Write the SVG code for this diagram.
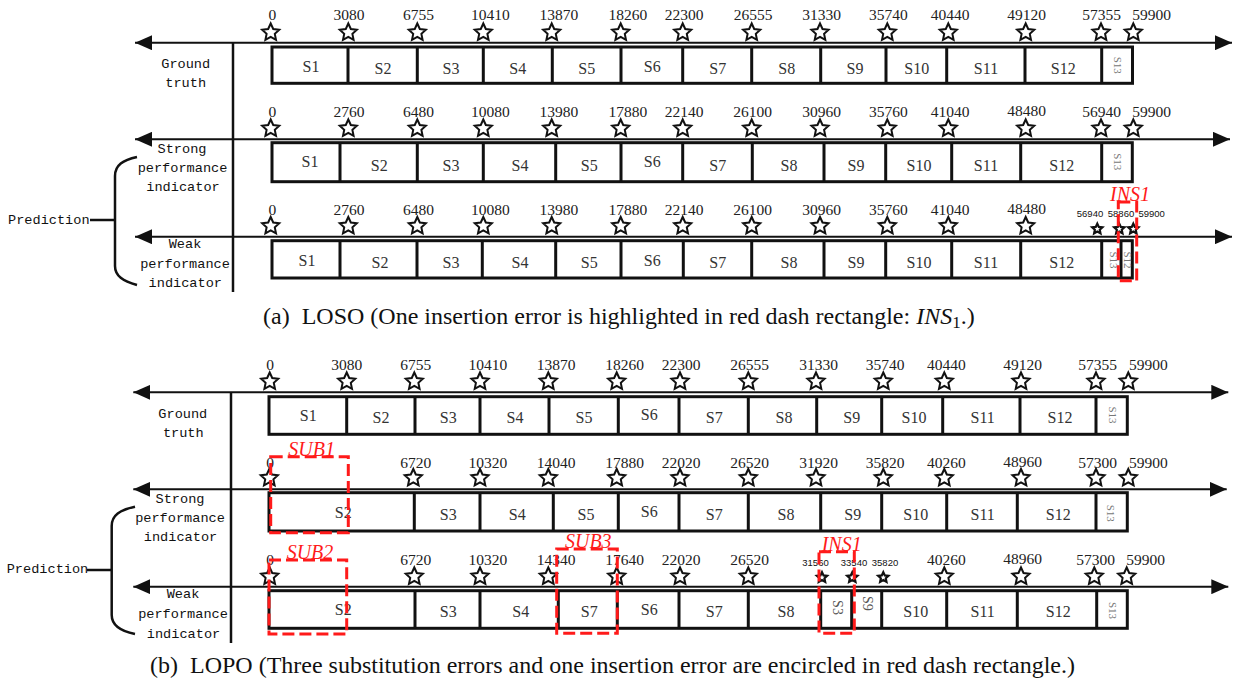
<svg xmlns="http://www.w3.org/2000/svg" xmlns:xlink="http://www.w3.org/1999/xlink" width="1234" height="683" viewBox="0 0 1234 683">
<style>
.num{font-family:"Liberation Serif",serif;font-size:15.5px;fill:#222;text-anchor:middle}
.sm{font-family:"Liberation Sans",sans-serif;font-size:9.5px;fill:#111;text-anchor:middle}
.seg{font-family:"Liberation Serif",serif;font-size:16px;fill:#333;text-anchor:middle}
.vseg{font-family:"Liberation Serif",serif;font-size:11px;fill:#777;text-anchor:middle}
.vseg2{font-family:"Liberation Serif",serif;font-size:14px;fill:#555;text-anchor:middle}
.hdr{font-family:"Liberation Mono",monospace;font-size:13.6px;fill:#111;text-anchor:middle}
.pred{font-family:"Liberation Mono",monospace;font-size:13.6px;fill:#111}
.cap{font-family:"Liberation Serif",serif;font-size:24px;fill:#111}
.err{font-family:"Liberation Serif",serif;font-size:20px;font-style:italic;fill:#ff1a1a;text-anchor:middle}
.box{fill:none;stroke:#111;stroke-width:3}
.div{stroke:#111;stroke-width:3}
.axis{stroke:#111;stroke-width:2;fill:none;marker-start:url(#ah);marker-end:url(#ah)}
.ln{stroke:#111;stroke-width:2.5;fill:none}
.red{fill:none;stroke:#ff1a1a;stroke-width:3;stroke-dasharray:12 5}
.st{fill:#fff;stroke:#111;stroke-width:2}
.sst{fill:#fff;stroke:#111;stroke-width:2.2}
</style>
<defs>
<marker id="ah" viewBox="0 0 17 15" refX="17" refY="7.5" markerWidth="17" markerHeight="15" markerUnits="userSpaceOnUse" orient="auto-start-reverse">
<path d="M0,0 L17,7.5 L0,15 Z" fill="#111"/>
</marker>
<path id="star" class="st" d="M0,-9 L2.53,-3.48 L8.56,-2.78 L4.09,1.33 L5.29,7.28 L0,4.3 L-5.29,7.28 L-4.09,1.33 L-8.56,-2.78 L-2.53,-3.48 Z"/>
<path id="sstar" class="sst" d="M0,-5.4 L1.52,-2.09 L5.14,-1.67 L2.45,0.8 L3.17,4.37 L0,2.58 L-3.17,4.37 L-2.45,0.8 L-5.14,-1.67 L-1.52,-2.09 Z"/>
</defs>
<rect width="1234" height="683" fill="#fff"/>

<g id="connectors">
<line class="axis" x1="135" y1="42.7" x2="1232" y2="42.7"/>
<line class="axis" x1="135" y1="139.3" x2="1230" y2="139.3"/>
<line class="axis" x1="135" y1="236.7" x2="1232" y2="236.7"/>
<line class="ln" x1="233" y1="42" x2="233" y2="292"/>
<path class="ln" d="M137,157 C123,160 115,165 115,176 L115,266 C115,276 123,281 137,285"/>
<line class="ln" x1="90" y1="220" x2="115" y2="220"/>
<line class="axis" x1="133.3" y1="392.3" x2="1228.3" y2="392.3"/>
<line class="axis" x1="133.3" y1="489.3" x2="1226.7" y2="489.3"/>
<line class="axis" x1="133.3" y1="586.7" x2="1228.3" y2="586.7"/>
<line class="ln" x1="231" y1="392" x2="231" y2="643"/>
<path class="ln" d="M135,506.7 C120,510 111.7,515 111.7,526 L111.7,615 C111.7,625 120,631 135,634"/>
<line class="ln" x1="87" y1="570" x2="111.7" y2="570"/>
</g>

<g id="headers">
<text class="hdr" x="185.7" y="68.3">Ground</text>
<text class="hdr" x="185.7" y="87.3">truth</text>
<text class="hdr" x="182" y="152.7">Strong</text>
<text class="hdr" x="182.5" y="171.7">performance</text>
<text class="hdr" x="183" y="190.7">indicator</text>
<text class="hdr" x="185" y="248">Weak</text>
<text class="hdr" x="185" y="268">performance</text>
<text class="hdr" x="185.3" y="287.3">indicator</text>
<text class="pred" x="8" y="224">Prediction</text>
<text class="hdr" x="182.8" y="417.7">Ground</text>
<text class="hdr" x="183.3" y="437.3">truth</text>
<text class="hdr" x="180" y="502.7">Strong</text>
<text class="hdr" x="180" y="521.7">performance</text>
<text class="hdr" x="180.5" y="541">indicator</text>
<text class="hdr" x="183" y="598.3">Weak</text>
<text class="hdr" x="183" y="618.3">performance</text>
<text class="hdr" x="183.5" y="637.7">indicator</text>
<text class="pred" x="6.7" y="573.3">Prediction</text>
</g>

<g id="a-ground">
<rect class="box" x="272" y="47" width="860.5" height="36.3"/>
<path class="div" d="M348,47V83.3M417.3,47V83.3M483.3,47V83.3M552.3,47V83.3M621,47V83.3M682.7,47V83.3M751.7,47V83.3M820.7,47V83.3M886,47V83.3M946.7,47V83.3M1025,47V83.3M1101.7,47V83.3"/>
<text class="seg" x="311" y="71.5">S1</text><text class="seg" x="383" y="74">S2</text><text class="seg" x="451" y="74">S3</text><text class="seg" x="517.7" y="74">S4</text><text class="seg" x="586.7" y="74">S5</text><text class="seg" x="652.3" y="71.5">S6</text><text class="seg" x="717.7" y="74">S7</text><text class="seg" x="786.7" y="74">S8</text><text class="seg" x="855" y="74">S9</text><text class="seg" x="916.7" y="74">S10</text><text class="seg" x="986" y="74">S11</text><text class="seg" x="1063.3" y="74">S12</text>
<text class="vseg" transform="translate(1117.7,65.3) rotate(90)" dy="0.35em">S13</text>
<use xlink:href="#star" x="270.7" y="32.5"/><use xlink:href="#star" x="348.3" y="32.5"/><use xlink:href="#star" x="417.3" y="32.5"/><use xlink:href="#star" x="483.3" y="32.5"/><use xlink:href="#star" x="551.7" y="32.5"/><use xlink:href="#star" x="620.7" y="32.5"/><use xlink:href="#star" x="682.7" y="32.5"/><use xlink:href="#star" x="751.7" y="32.5"/><use xlink:href="#star" x="820" y="32.5"/><use xlink:href="#star" x="887.3" y="32.5"/><use xlink:href="#star" x="948.3" y="32.5"/><use xlink:href="#star" x="1025.7" y="32.5"/><use xlink:href="#star" x="1101" y="32.5"/><use xlink:href="#star" x="1133.3" y="32.5"/>
<text class="num" x="272.3" y="20">0</text><text class="num" x="349" y="20">3080</text><text class="num" x="418.5" y="20">6755</text><text class="num" x="490.3" y="20">10410</text><text class="num" x="558.8" y="20">13870</text><text class="num" x="627.8" y="20">18260</text><text class="num" x="684.2" y="20">22300</text><text class="num" x="753" y="20">26555</text><text class="num" x="821.7" y="20">31330</text><text class="num" x="888.3" y="20">35740</text><text class="num" x="950" y="20">40440</text><text class="num" x="1026.7" y="20">49120</text><text class="num" x="1101.7" y="20">57355</text><text class="num" x="1151.7" y="20">59900</text>
</g>

<g id="a-strong">
<rect class="box" x="272" y="142.7" width="860.3" height="39"/>
<path class="div" d="M340,142.7V181.7M417.3,142.7V181.7M483.3,142.7V181.7M555.7,142.7V181.7M621,142.7V181.7M682.7,142.7V181.7M752.3,142.7V181.7M824,142.7V181.7M885.7,142.7V181.7M951.7,142.7V181.7M1020.7,142.7V181.7M1101.7,142.7V181.7"/>
<text class="seg" x="310" y="167.3">S1</text><text class="seg" x="379.3" y="170.7">S2</text><text class="seg" x="451" y="170.7">S3</text><text class="seg" x="520" y="170.7">S4</text><text class="seg" x="589.3" y="170.7">S5</text><text class="seg" x="652.3" y="167.3">S6</text><text class="seg" x="717.7" y="170.7">S7</text><text class="seg" x="789" y="170.7">S8</text><text class="seg" x="856" y="170.7">S9</text><text class="seg" x="919" y="170.7">S10</text><text class="seg" x="986" y="170.7">S11</text><text class="seg" x="1061.7" y="170.7">S12</text>
<text class="vseg" transform="translate(1117.7,161.7) rotate(90)" dy="0.35em">S13</text>
<use xlink:href="#star" x="270.7" y="128.5"/><use xlink:href="#star" x="348.3" y="128.5"/><use xlink:href="#star" x="417.3" y="128.5"/><use xlink:href="#star" x="483.3" y="128.5"/><use xlink:href="#star" x="551.7" y="128.5"/><use xlink:href="#star" x="620.7" y="128.5"/><use xlink:href="#star" x="682.7" y="128.5"/><use xlink:href="#star" x="751.7" y="128.5"/><use xlink:href="#star" x="820" y="128.5"/><use xlink:href="#star" x="887.3" y="128.5"/><use xlink:href="#star" x="948.3" y="128.5"/><use xlink:href="#star" x="1025.7" y="128.5"/><use xlink:href="#star" x="1101" y="128.5"/><use xlink:href="#star" x="1133.3" y="128.5"/>
<text class="num" x="272.3" y="117.3">0</text><text class="num" x="349" y="117.3">2760</text><text class="num" x="418.5" y="117.3">6480</text><text class="num" x="490.3" y="117.3">10080</text><text class="num" x="558.8" y="117.3">13980</text><text class="num" x="627.8" y="117.3">17880</text><text class="num" x="684.2" y="117.3">22140</text><text class="num" x="752.7" y="117.3">26100</text><text class="num" x="821.7" y="117.3">30960</text><text class="num" x="888.3" y="117.3">35760</text><text class="num" x="950" y="117.3">41040</text><text class="num" x="1026.7" y="116">48480</text><text class="num" x="1101.7" y="117.3">56940</text><text class="num" x="1151.7" y="117.3">59900</text>
</g>

<g id="a-weak">
<rect class="box" x="272" y="240.7" width="860.3" height="37.3"/>
<path class="div" d="M340,240.7V278M417,240.7V278M482.3,240.7V278M555.7,240.7V278M621,240.7V278M683.3,240.7V278M751.7,240.7V278M824,240.7V278M885.7,240.7V278M951.7,240.7V278M1020.7,240.7V278M1101.7,240.7V278M1121,240.7V278"/>
<text class="seg" x="307" y="265.7">S1</text><text class="seg" x="380" y="268.3">S2</text><text class="seg" x="451" y="268.3">S3</text><text class="seg" x="520" y="268.3">S4</text><text class="seg" x="589.3" y="268.3">S5</text><text class="seg" x="652.3" y="265.7">S6</text><text class="seg" x="717.7" y="268.3">S7</text><text class="seg" x="789" y="268.3">S8</text><text class="seg" x="856" y="268.3">S9</text><text class="seg" x="919" y="268.3">S10</text><text class="seg" x="986" y="268.3">S11</text><text class="seg" x="1061.7" y="268.3">S12</text>
<text class="vseg" transform="translate(1114,260) rotate(90)" dy="0.35em">S13</text>
<text class="vseg" transform="translate(1127.5,260) rotate(90)" dy="0.35em">S12</text>
<use xlink:href="#star" x="270.7" y="226"/><use xlink:href="#star" x="348.3" y="226"/><use xlink:href="#star" x="417.3" y="226"/><use xlink:href="#star" x="483.3" y="226"/><use xlink:href="#star" x="551.7" y="226"/><use xlink:href="#star" x="620.7" y="226"/><use xlink:href="#star" x="682.7" y="226"/><use xlink:href="#star" x="751.7" y="226"/><use xlink:href="#star" x="820" y="226"/><use xlink:href="#star" x="887.3" y="226"/><use xlink:href="#star" x="948.3" y="226"/><use xlink:href="#star" x="1025.7" y="226"/>
<use xlink:href="#sstar" x="1097.3" y="229"/><use xlink:href="#sstar" x="1119.3" y="229"/><use xlink:href="#sstar" x="1133.3" y="229"/>
<text class="num" x="272.3" y="215">0</text><text class="num" x="349" y="215">2760</text><text class="num" x="418.5" y="215">6480</text><text class="num" x="490.3" y="215">10080</text><text class="num" x="558.8" y="215">13980</text><text class="num" x="627.8" y="215">17880</text><text class="num" x="684.2" y="215">22140</text><text class="num" x="752.7" y="215">26100</text><text class="num" x="821.7" y="215">30960</text><text class="num" x="888.3" y="215">35760</text><text class="num" x="950" y="215">41040</text><text class="num" x="1026.7" y="214">48480</text>
<text class="sm" x="1090" y="217">56940</text><text class="sm" x="1121" y="217">58860</text><text class="sm" x="1151.7" y="217">59900</text>
</g>

<g id="a-ins1">
<rect class="red" x="1118.3" y="202" width="18.4" height="78.7"/>
<text class="err" x="1130" y="200.5">INS1</text>
</g>

<text class="cap" x="263" y="324">(a)&#160; LOSO (One insertion error is highlighted in red dash rectangle: <tspan font-style="italic">INS</tspan><tspan font-size="17" dy="4">1</tspan><tspan dy="-4">.)</tspan></text>

<g id="b-ground">
<rect class="box" x="269" y="396.7" width="858.3" height="37.6"/>
<path class="div" d="M346.7,396.7V434.3M415,396.7V434.3M480,396.7V434.3M549,396.7V434.3M618.3,396.7V434.3M679,396.7V434.3M748.3,396.7V434.3M816.7,396.7V434.3M881.7,396.7V434.3M942.7,396.7V434.3M1020,396.7V434.3M1096,396.7V434.3"/>
<text class="seg" x="308.3" y="421">S1</text><text class="seg" x="381" y="423.3">S2</text><text class="seg" x="448.3" y="423.3">S3</text><text class="seg" x="515" y="423.3">S4</text><text class="seg" x="584" y="423.3">S5</text><text class="seg" x="649.3" y="420.3">S6</text><text class="seg" x="714.3" y="423.3">S7</text><text class="seg" x="784" y="423.3">S8</text><text class="seg" x="851.7" y="423.3">S9</text><text class="seg" x="914" y="423.3">S10</text><text class="seg" x="982.7" y="423.3">S11</text><text class="seg" x="1060" y="423.3">S12</text>
<text class="vseg" transform="translate(1112.7,415) rotate(90)" dy="0.35em">S13</text>
<use xlink:href="#star" x="269.7" y="381.5"/><use xlink:href="#star" x="346.7" y="381.5"/><use xlink:href="#star" x="414.3" y="381.5"/><use xlink:href="#star" x="480" y="381.5"/><use xlink:href="#star" x="548.3" y="381.5"/><use xlink:href="#star" x="616.7" y="381.5"/><use xlink:href="#star" x="680" y="381.5"/><use xlink:href="#star" x="748.3" y="381.5"/><use xlink:href="#star" x="816" y="381.5"/><use xlink:href="#star" x="883.3" y="381.5"/><use xlink:href="#star" x="944.3" y="381.5"/><use xlink:href="#star" x="1021" y="381.5"/><use xlink:href="#star" x="1096" y="381.5"/><use xlink:href="#star" x="1128.3" y="381.5"/>
<text class="num" x="270" y="370">0</text><text class="num" x="346.8" y="370">3080</text><text class="num" x="415.8" y="370">6755</text><text class="num" x="487.8" y="370">10410</text><text class="num" x="556.2" y="370">13870</text><text class="num" x="624.5" y="370">18260</text><text class="num" x="681" y="370">22300</text><text class="num" x="749.7" y="370">26555</text><text class="num" x="818.7" y="370">31330</text><text class="num" x="885" y="370">35740</text><text class="num" x="946.3" y="370">40440</text><text class="num" x="1022.7" y="370">49120</text><text class="num" x="1097.7" y="370">57355</text><text class="num" x="1148.3" y="370">59900</text>
</g>

<g id="b-strong">
<rect class="box" x="269" y="492.7" width="858.3" height="38.3"/>
<path class="div" d="M414.3,492.7V531M480,492.7V531M553.3,492.7V531M618.3,492.7V531M679,492.7V531M748.3,492.7V531M820.7,492.7V531M881.7,492.7V531M946.7,492.7V531M1017.3,492.7V531M1096,492.7V531"/>
<text class="seg" x="343.3" y="517.7">S2</text><text class="seg" x="448.3" y="520">S3</text><text class="seg" x="517.3" y="520">S4</text><text class="seg" x="586" y="520">S5</text><text class="seg" x="649.3" y="517.3">S6</text><text class="seg" x="714.3" y="520">S7</text><text class="seg" x="786" y="520">S8</text><text class="seg" x="852.7" y="520">S9</text><text class="seg" x="915.7" y="520">S10</text><text class="seg" x="982.7" y="520">S11</text><text class="seg" x="1058.3" y="520">S12</text>
<text class="vseg" transform="translate(1111,513.3) rotate(90)" dy="0.35em">S13</text>
<use xlink:href="#star" x="269.3" y="478"/><use xlink:href="#star" x="413.3" y="478"/><use xlink:href="#star" x="480" y="478"/><use xlink:href="#star" x="548.3" y="478"/><use xlink:href="#star" x="616.7" y="478"/><use xlink:href="#star" x="680" y="478"/><use xlink:href="#star" x="748.3" y="478"/><use xlink:href="#star" x="816" y="478"/><use xlink:href="#star" x="883.3" y="478"/><use xlink:href="#star" x="944.3" y="478"/><use xlink:href="#star" x="1021" y="478"/><use xlink:href="#star" x="1096" y="478"/><use xlink:href="#star" x="1128.3" y="478"/>
<text class="num" x="270" y="467.7">0</text><text class="num" x="415.8" y="467.7">6720</text><text class="num" x="487.8" y="467.7">10320</text><text class="num" x="556.2" y="467.7">14040</text><text class="num" x="624.5" y="467.7">17880</text><text class="num" x="681" y="467.7">22020</text><text class="num" x="749.7" y="467.7">26520</text><text class="num" x="818.7" y="467.7">31920</text><text class="num" x="885" y="467.7">35820</text><text class="num" x="946.3" y="467.7">40260</text><text class="num" x="1022.7" y="466.5">48960</text><text class="num" x="1097.7" y="467.7">57300</text><text class="num" x="1148.3" y="467.7">59900</text>
</g>

<g id="b-weak">
<rect class="box" x="269" y="590.7" width="858.3" height="37.6"/>
<path class="div" d="M415,590.7V628.3M480,590.7V628.3M558.3,590.7V628.3M617.3,590.7V628.3M679,590.7V628.3M748.3,590.7V628.3M820.7,590.7V628.3M851.7,590.7V628.3M881.7,590.7V628.3M946.7,590.7V628.3M1017.3,590.7V628.3M1096.7,590.7V628.3"/>
<text class="seg" x="343.3" y="615">S2</text><text class="seg" x="448.3" y="617.3">S3</text><text class="seg" x="520.7" y="617.3">S4</text><text class="seg" x="589.3" y="617.3">S7</text><text class="seg" x="649.3" y="615">S6</text><text class="seg" x="714.3" y="617.3">S7</text><text class="seg" x="786" y="617.3">S8</text><text class="seg" x="915.7" y="617.3">S10</text><text class="seg" x="982.7" y="617.3">S11</text><text class="seg" x="1058.3" y="617.3">S12</text>
<text class="vseg2" transform="translate(837.7,607.5) rotate(90)" dy="0.35em">S3</text>
<text class="vseg2" transform="translate(867.5,603.3) rotate(90)" dy="0.35em">S9</text>
<text class="vseg" transform="translate(1112.7,610.5) rotate(90)" dy="0.35em">S13</text>
<use xlink:href="#star" x="269.7" y="576.5"/><use xlink:href="#star" x="414.3" y="576.5"/><use xlink:href="#star" x="480" y="576.5"/><use xlink:href="#star" x="548.3" y="576.5"/><use xlink:href="#star" x="616.7" y="576.5"/><use xlink:href="#star" x="680" y="576.5"/><use xlink:href="#star" x="748.3" y="576.5"/><use xlink:href="#star" x="944.3" y="576.5"/><use xlink:href="#star" x="1021" y="576.5"/><use xlink:href="#star" x="1094.3" y="576.5"/><use xlink:href="#star" x="1126.7" y="576.5"/>
<use xlink:href="#sstar" x="822" y="577.5"/><use xlink:href="#sstar" x="852.3" y="577.5"/><use xlink:href="#sstar" x="883.3" y="577.5"/>
<text class="num" x="270" y="565">0</text><text class="num" x="415.8" y="565">6720</text><text class="num" x="487.8" y="565">10320</text><text class="num" x="556.2" y="565">14340</text><text class="num" x="624.5" y="565">17640</text><text class="num" x="681" y="565">22020</text><text class="num" x="749.7" y="565">26520</text><text class="num" x="946.3" y="565">40260</text><text class="num" x="1022.7" y="564">48960</text><text class="num" x="1095.5" y="565">57300</text><text class="num" x="1145.5" y="565">59900</text>
<text class="sm" x="815.5" y="565.7">31560</text><text class="sm" x="854" y="565.7">33540</text><text class="sm" x="885" y="565.7">35820</text>
</g>

<g id="b-sub1">
<rect class="red" x="270.7" y="456.7" width="77.6" height="76"/>
<text class="err" x="311.7" y="456">SUB1</text>
</g>
<g id="b-sub2">
<rect class="red" x="269" y="560" width="77.7" height="74"/>
<text class="err" x="310" y="559">SUB2</text>
</g>
<g id="b-sub3">
<rect class="red" x="556.7" y="549" width="60.6" height="84.3"/>
<text class="err" x="588.3" y="548">SUB3</text>
</g>
<g id="b-ins1">
<rect class="red" x="819" y="551.7" width="35.3" height="81.6"/>
<text class="err" x="841.7" y="550.5">INS1</text>
</g>

<text class="cap" x="150" y="673">(b)&#160; LOPO (Three substitution errors and one insertion error are encircled in red dash rectangle.)</text>
</svg>
